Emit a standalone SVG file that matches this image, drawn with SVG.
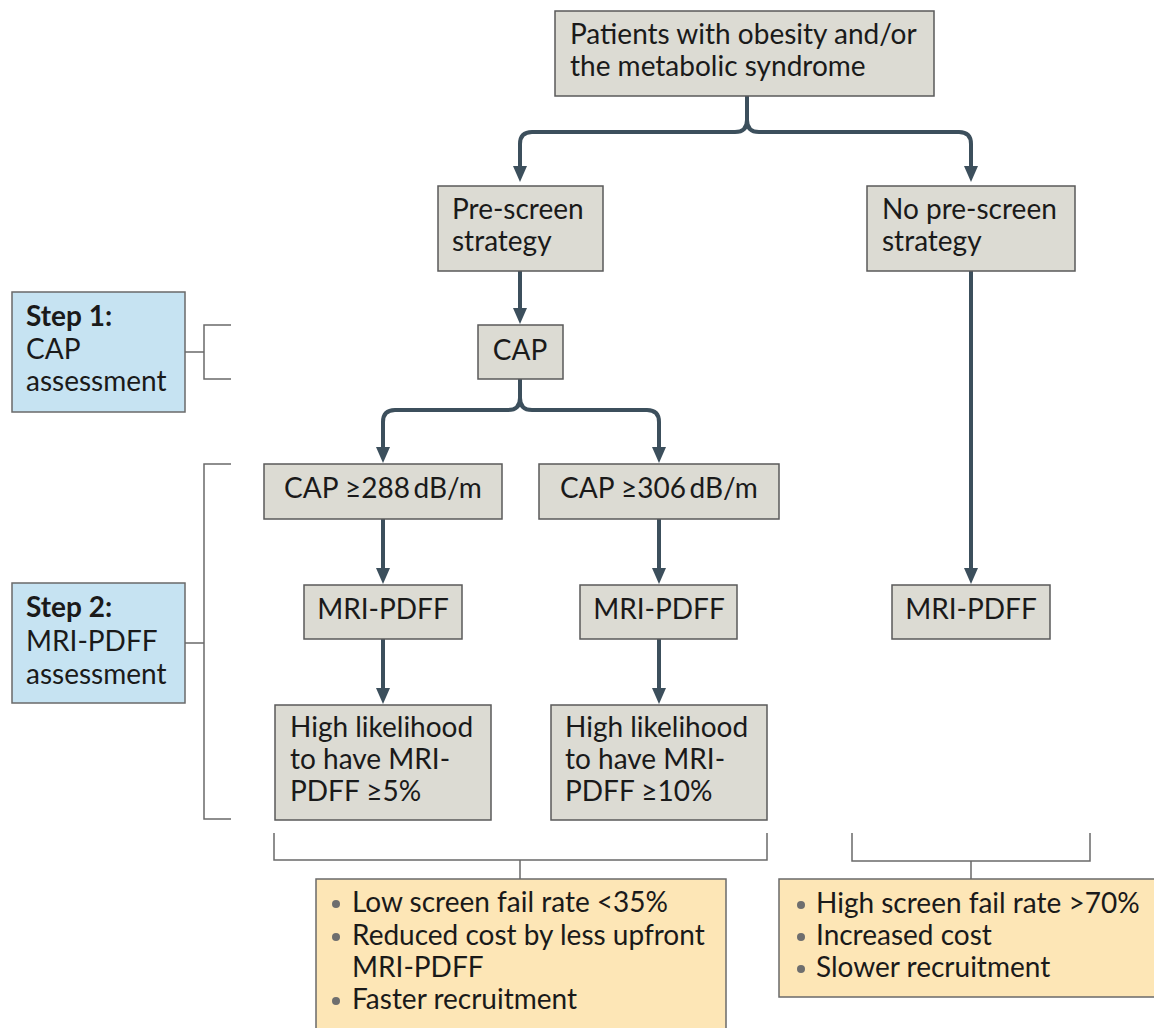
<svg xmlns="http://www.w3.org/2000/svg" width="1154" height="1028" viewBox="0 0 1154 1028">
<style>
  text { font-family: Lato, "Open Sans", "Liberation Sans", sans-serif; font-size: 28px; fill: #1a1a1a; }
  .box { fill: #dcdbd3; stroke: #5a5a5a; stroke-width: 1.5; }
  .step { fill: #c6e3f2; stroke: #6a6a6a; stroke-width: 1.5; }
  .out { fill: #fde6b6; stroke: #6a6a6a; stroke-width: 1.5; }
  .arrow { fill: none; stroke: #3c4f5c; stroke-width: 4; marker-end: url(#ah); }
  .flow { fill: none; stroke: #3c4f5c; stroke-width: 4; }
  .brk { fill: none; stroke: #6a6a6a; stroke-width: 1.5; }
  .c { text-anchor: middle; }
  .b { font-weight: bold; }
  .dot { fill: #6e6e6e; }
</style>
<defs>
  <marker id="ah" markerUnits="userSpaceOnUse" markerWidth="16" markerHeight="14" viewBox="0 0 16 14" refX="1" refY="7" orient="auto">
    <path d="M0,0 L16,7 L0,14 z" fill="#3c4f5c"/>
  </marker>
</defs>

<g id="connectors">
  <path class="flow" d="M747,96 V120 Q747,132 735,132 H532 Q520,132 520,144 V150"/>
  <path class="arrow" d="M520,148 V167"/>
  <path class="flow" d="M747,120 Q747,132 759,132 H959 Q971,132 971,144 V150"/>
  <path class="arrow" d="M971,148 V167"/>
  <path class="arrow" d="M520,271 V309"/>
  <path class="flow" d="M520,379 V398 Q520,410 508,410 H395 Q383,410 383,422 V430"/>
  <path class="arrow" d="M383,428 V448"/>
  <path class="flow" d="M520,398 Q520,410 532,410 H647 Q659,410 659,422 V430"/>
  <path class="arrow" d="M659,428 V448"/>
  <path class="arrow" d="M383,519 V569"/>
  <path class="arrow" d="M659,519 V569"/>
  <path class="arrow" d="M971,271 V569"/>
  <path class="arrow" d="M383,639 V689"/>
  <path class="arrow" d="M659,639 V689"/>
  <path class="brk" d="M231,325 H204 V379 H231 M185,352 H204"/>
  <path class="brk" d="M231,464 H204 V819 H231 M185,643 H204"/>
  <path class="brk" d="M274,833 V860 H767 V833 M520,860 V879"/>
  <path class="brk" d="M852,833 V861 H1090 V833 M971,861 V879"/>
</g>

<g id="patients">
  <rect class="box" x="555" y="11" width="379" height="85"/>
  <text x="570" y="44">Patients with obesity and/or</text>
  <text x="570" y="76">the metabolic syndrome</text>
</g>
<g id="prescreen">
  <rect class="box" x="438" y="186" width="165" height="85"/>
  <text x="452" y="219">Pre-screen</text>
  <text x="452" y="251">strategy</text>
</g>
<g id="noprescreen">
  <rect class="box" x="867" y="186" width="208" height="85"/>
  <text x="882" y="219">No pre-screen</text>
  <text x="882" y="251">strategy</text>
</g>
<g id="step1">
  <rect class="step" x="12" y="292" width="173" height="120"/>
  <text x="26" y="326" class="b">Step 1:</text>
  <text x="26" y="359">CAP</text>
  <text x="26" y="391">assessment</text>
</g>
<g id="cap">
  <rect class="box" x="478" y="325" width="85" height="54"/>
  <text x="520" y="360" class="c">CAP</text>
</g>
<g id="cap288">
  <rect class="box" x="264" y="464" width="238" height="55"/>
  <text x="383" y="498" class="c">CAP ≥288&#8201;dB/m</text>
</g>
<g id="cap306">
  <rect class="box" x="539" y="464" width="240" height="55"/>
  <text x="659" y="498" class="c">CAP ≥306&#8201;dB/m</text>
</g>
<g id="step2">
  <rect class="step" x="12" y="583" width="173" height="120"/>
  <text x="26" y="617" class="b">Step 2:</text>
  <text x="26" y="651">MRI-PDFF</text>
  <text x="26" y="684">assessment</text>
</g>
<g id="mri1">
  <rect class="box" x="304" y="585" width="158" height="54"/>
  <text x="383" y="619" class="c">MRI-PDFF</text>
</g>
<g id="mri2">
  <rect class="box" x="580" y="585" width="157" height="54"/>
  <text x="659" y="619" class="c">MRI-PDFF</text>
</g>
<g id="mri3">
  <rect class="box" x="892" y="585" width="158" height="54"/>
  <text x="971" y="619" class="c">MRI-PDFF</text>
</g>
<g id="hl5">
  <rect class="box" x="275" y="705" width="216" height="115"/>
  <text x="290" y="737">High likelihood</text>
  <text x="290" y="769">to have MRI-</text>
  <text x="290" y="801">PDFF ≥5%</text>
</g>
<g id="hl10">
  <rect class="box" x="551" y="705" width="216" height="115"/>
  <text x="565" y="737">High likelihood</text>
  <text x="565" y="769">to have MRI-</text>
  <text x="565" y="801">PDFF ≥10%</text>
</g>
<g id="outcome-pre">
  <rect class="out" x="316" y="879" width="410" height="170"/>
  <circle class="dot" cx="336" cy="904" r="4"/>
  <text x="352" y="912">Low screen fail rate &lt;35%</text>
  <circle class="dot" cx="336" cy="937" r="4"/>
  <text x="352" y="945">Reduced cost by less upfront</text>
  <text x="352" y="977">MRI-PDFF</text>
  <circle class="dot" cx="336" cy="1001" r="4"/>
  <text x="352" y="1009">Faster recruitment</text>
</g>
<g id="outcome-nopre">
  <rect class="out" x="779" y="879" width="385" height="118"/>
  <circle class="dot" cx="801" cy="905" r="4"/>
  <text x="816" y="913">High screen fail rate &gt;70%</text>
  <circle class="dot" cx="801" cy="937" r="4"/>
  <text x="816" y="945">Increased cost</text>
  <circle class="dot" cx="801" cy="969" r="4"/>
  <text x="816" y="977">Slower recruitment</text>
</g>
</svg>
